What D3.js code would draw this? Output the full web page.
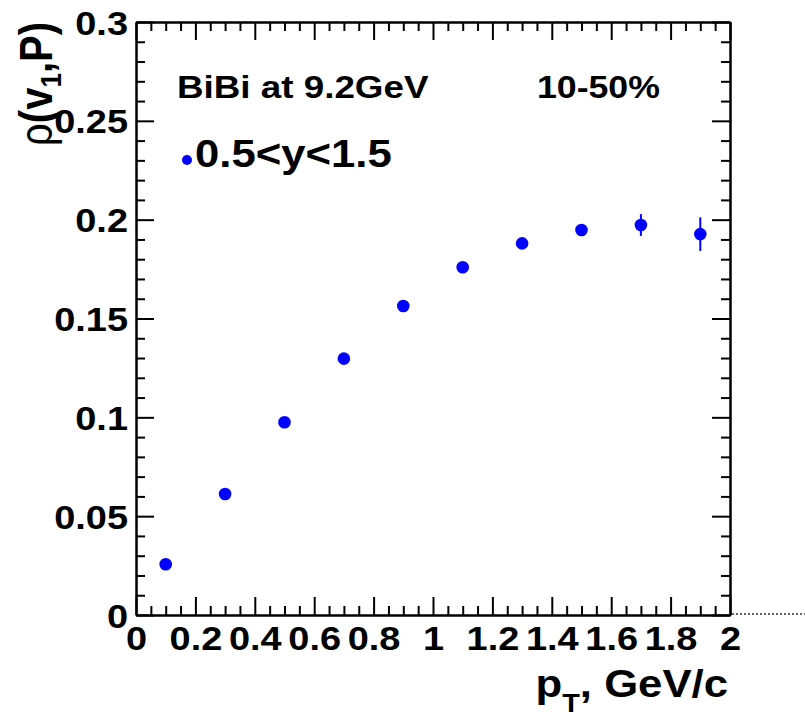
<!DOCTYPE html>
<html>
<head>
<meta charset="utf-8">
<script src="https://cdn.jsdelivr.net/npm/d3@7"></script>
<style>
  html, body { margin: 0; padding: 0; background: #fff; }
  svg { display: block; }
  text { font-family: "Liberation Sans", Arial, Helvetica, sans-serif; font-weight: bold; fill: #000; }
</style>
</head>
<body>
<svg id="chart" width="805" height="719"></svg>
<script>
// pT bin centres (GeV/c), correlation values and their statistical errors
const ptBins   = [0.1, 0.3, 0.5, 0.7, 0.9, 1.1, 1.3, 1.5, 1.7, 1.9];
const rhoVals  = [0.0257, 0.0612, 0.0975, 0.1297, 0.1563, 0.1759, 0.1880, 0.1948, 0.1973, 0.1927];
const rhoErrs  = [0.0006, 0.0008, 0.0009, 0.0010, 0.0012, 0.0014, 0.0017, 0.0025, 0.0055, 0.0085];

// axis ticks
const xMajor = [0, 0.2, 0.4, 0.6, 0.8, 1, 1.2, 1.4, 1.6, 1.8, 2];
const xTickLabels = ["0", "0.2", "0.4", "0.6", "0.8", "1", "1.2", "1.4", "1.6", "1.8", "2"];
const yMajor = [0, 0.05, 0.1, 0.15, 0.2, 0.25, 0.3];
const yTickLabels = ["0", "0.05", "0.1", "0.15", "0.2", "0.25", "0.3"];

const svg = d3.select("#chart");
const W = 805;
const SX = 1.15;               // horizontal glyph stretch of the canvas
const frame = { left: 136, right: 730, top: 22, bottom: 615 };

const x = d3.scaleLinear().domain([0, 2]).range([frame.left, frame.right]);
const y = d3.scaleLinear().domain([0, 0.3]).range([frame.bottom, frame.top]);

const xMinor = d3.range(0, 2.0001, 0.05).map(v => +v.toFixed(2)).filter(v => !xMajor.some(m => Math.abs(m - v) < 1e-6));
const yMinor = d3.range(0, 0.3001, 0.01).map(v => +v.toFixed(2)).filter(v => !yMajor.some(m => Math.abs(m - v) < 1e-6));

function styleAxis(g) {
  g.select(".domain").attr("stroke", "#000").attr("stroke-width", 2);
  g.selectAll(".tick line").attr("stroke", "#000").attr("stroke-width", 2);
}

// bottom axis: ticks point inward, labels below
const gxMinor = svg.append("g").attr("transform", `translate(0,${frame.bottom})`)
  .call(d3.axisBottom(x).tickValues(xMinor).tickSize(-9).tickSizeOuter(0).tickFormat(""));
styleAxis(gxMinor);
const gx = svg.append("g").attr("transform", `translate(0,${frame.bottom})`)
  .call(d3.axisBottom(x).tickValues(xMajor).tickSize(-18).tickSizeOuter(0)
    .tickFormat((d, i) => xTickLabels[i]));
styleAxis(gx);
gx.selectAll(".tick text")
  .attr("y", 0).attr("dy", null)
  .attr("transform", `translate(0,35) scale(${SX},1)`)
  .attr("font-size", 33).attr("font-family", null).attr("fill", "#000");

// top axis
const gtMinor = svg.append("g").attr("transform", `translate(0,${frame.top})`)
  .call(d3.axisTop(x).tickValues(xMinor).tickSize(-9).tickSizeOuter(0).tickFormat(""));
styleAxis(gtMinor);
const gt = svg.append("g").attr("transform", `translate(0,${frame.top})`)
  .call(d3.axisTop(x).tickValues(xMajor).tickSize(-18).tickSizeOuter(0).tickFormat(""));
styleAxis(gt);

// left axis
const gyMinor = svg.append("g").attr("transform", `translate(${frame.left},0)`)
  .call(d3.axisLeft(y).tickValues(yMinor).tickSize(-9).tickSizeOuter(0).tickFormat(""));
styleAxis(gyMinor);
const gy = svg.append("g").attr("transform", `translate(${frame.left},0)`)
  .call(d3.axisLeft(y).tickValues(yMajor).tickSize(-18).tickSizeOuter(0)
    .tickFormat((d, i) => yTickLabels[i]));
styleAxis(gy);
gy.selectAll(".tick text")
  .attr("x", 0).attr("dy", null)
  .attr("transform", `translate(-8,12) scale(${SX},1)`)
  .attr("font-size", 33).attr("font-family", null).attr("fill", "#000");

// right axis
const grMinor = svg.append("g").attr("transform", `translate(${frame.right},0)`)
  .call(d3.axisRight(y).tickValues(yMinor).tickSize(-9).tickSizeOuter(0).tickFormat(""));
styleAxis(grMinor);
const gr = svg.append("g").attr("transform", `translate(${frame.right},0)`)
  .call(d3.axisRight(y).tickValues(yMajor).tickSize(-18).tickSizeOuter(0).tickFormat(""));
styleAxis(gr);

// zero reference line continuing past the frame
svg.append("line")
  .attr("x1", x(2) + 2).attr("x2", W)
  .attr("y1", y(0) - 1).attr("y2", y(0) - 1)
  .attr("stroke", "#333").attr("stroke-width", 1.5).attr("stroke-dasharray", "2,2");

// data: error bars then markers
const pts = ptBins.map((p, i) => ({ p, v: rhoVals[i], e: rhoErrs[i] }));
svg.append("g").selectAll("line").data(pts).join("line")
  .attr("x1", d => x(d.p)).attr("x2", d => x(d.p))
  .attr("y1", d => y(d.v - d.e)).attr("y2", d => y(d.v + d.e))
  .attr("stroke", "#0000ff").attr("stroke-width", 2);
svg.append("g").selectAll("circle").data(pts).join("circle")
  .attr("cx", d => x(d.p)).attr("cy", d => y(d.v)).attr("r", 6.3)
  .attr("fill", "#0000ff");

// labels inside the frame
svg.append("text").attr("transform", `translate(177,98) scale(${SX},1)`)
  .attr("font-size", 32).text("BiBi at 9.2GeV");
svg.append("text").attr("transform", `translate(537,98) scale(${SX},1)`)
  .attr("font-size", 31).text("10-50%");

// legend entry
svg.append("circle").attr("cx", 187).attr("cy", 160).attr("r", 5).attr("fill", "#0000ff");
svg.append("text").attr("transform", `translate(195,167) scale(${SX},1)`)
  .attr("font-size", 38).text("0.5<y<1.5");

// x-axis title
const xt = svg.append("text").attr("transform", `translate(728,697) scale(${SX},1)`)
  .attr("text-anchor", "end").attr("font-size", 38);
xt.append("tspan").text("p");
xt.append("tspan").attr("font-size", 25).attr("dy", 15).text("T");
xt.append("tspan").attr("dy", -15).text(", GeV/c");

// y-axis title
const yt = svg.append("text").attr("transform", `translate(52,22) scale(${SX},1) rotate(-90)`)
  .attr("text-anchor", "end").attr("font-size", 40);
yt.append("tspan").attr("font-weight", "normal").text("ρ");
yt.append("tspan").text("(v");
yt.append("tspan").attr("font-size", 26).attr("dy", 8).text("1");
yt.append("tspan").attr("dy", -8).text(",P)");
</script>
</body>
</html>
